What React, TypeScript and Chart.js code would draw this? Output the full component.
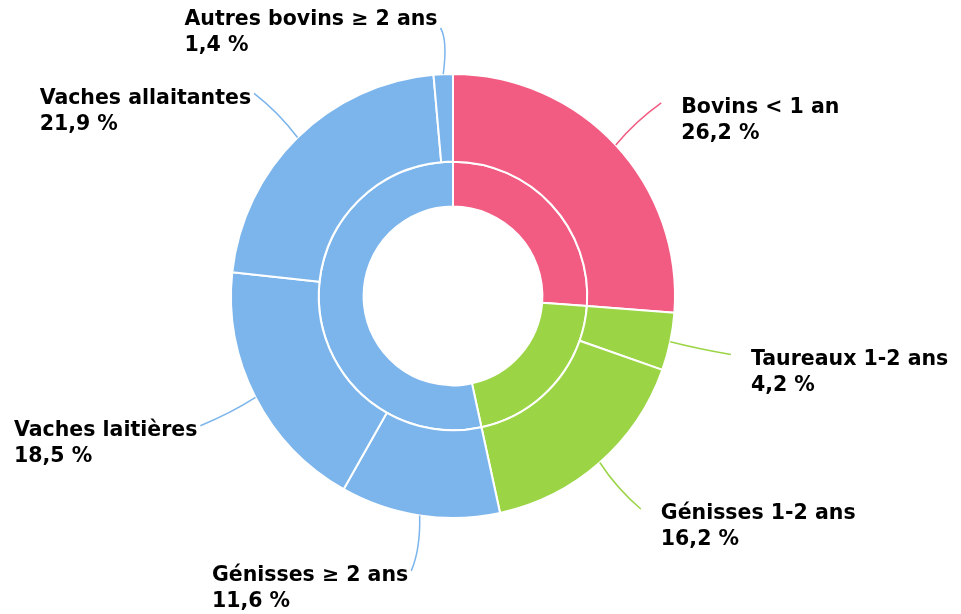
import React, { useEffect, useRef } from "react";
import { Chart, registerables } from "chart.js";

Chart.register(...registerables);

const outerLabels = [
  "Bovins < 1 an",
  "Taureaux 1-2 ans",
  "Génisses 1-2 ans",
  "Génisses ≥ 2 ans",
  "Vaches laitières",
  "Vaches allaitantes",
  "Autres bovins ≥ 2 ans",
];
const outerValues = [26.2, 4.2, 16.2, 11.6, 18.5, 21.9, 1.4];
const outerGroup = [0, 1, 1, 2, 2, 2, 2];

const innerLabels = ["Bovins < 1 an", "Bovins 1-2 ans", "Bovins ≥ 2 ans"];
const innerValues = [26.2, 20.4, 53.4];
const groupColors = ["#f25c82", "#9bd546", "#7cb5ec"];

const fmt = (v: number) => v.toFixed(1).replace(".", ",") + " %";

const labelPlugin = {
  id: "sunLabels",
  afterDatasetsDraw(chart: any) {
    const ctx = chart.ctx;
    const meta = chart.getDatasetMeta(0);
    ctx.save();
    meta.data.forEach((arc: any, i: number) => {
      const { x, y, startAngle, endAngle, outerRadius } = arc.getProps(
        ["x", "y", "startAngle", "endAngle", "outerRadius"],
        true
      );
      const mid = (startAngle + endAngle) / 2;
      const cos = Math.cos(mid);
      const sin = Math.sin(mid);
      const sx = x + cos * outerRadius;
      const sy = y + sin * outerRadius;
      const rEnd = outerRadius + (sin > 0.9 ? 56 : 62);
      const ex = x + cos * rEnd;
      const ey = Math.max(y + sin * rEnd, 28);
      const right = cos >= 0;
      const cx = x + cos * (outerRadius + 34) + (right ? -6 : 6);
      const cy = Math.max(y + sin * (outerRadius + 34), 40);
      ctx.beginPath();
      ctx.moveTo(sx, sy);
      ctx.quadraticCurveTo(cx, cy, ex, ey);
      ctx.strokeStyle = groupColors[outerGroup[i]];
      ctx.lineWidth = 1.5;
      ctx.stroke();

      ctx.font = "bold 20.5px 'DejaVu Sans', sans-serif";
      ctx.fillStyle = "#000";
      ctx.textBaseline = "middle";
      ctx.textAlign = "left";
      const l1 = outerLabels[i];
      const l2 = fmt(outerValues[i]);
      const tx = right ? ex + 20 : ex - 3 - ctx.measureText(l1).width;
      const ty = ey + (sin < -0.95 ? -8 : 5);
      ctx.fillText(l1, tx, ty);
      ctx.fillText(l2, tx, ty + 26);
    });
    ctx.restore();
  },
};

export default function App() {
  const ref = useRef<HTMLCanvasElement>(null);
  useEffect(() => {
    if (!ref.current) return;
    const chart = new Chart(ref.current, {
      type: "doughnut",
      data: {
        labels: outerLabels,
        datasets: [
          {
            data: outerValues,
            backgroundColor: outerGroup.map((g) => groupColors[g]),
            borderColor: "#ffffff",
            borderWidth: 2,
            weight: 88,
          } as any,
          {
            data: innerValues,
            backgroundColor: groupColors,
            borderColor: "#ffffff",
            borderWidth: 2,
            weight: 45,
          } as any,
        ],
      },
      options: {
        animation: false,
        responsive: false,
        radius: 222,
        cutout: 89,
        layout: { padding: { top: 74, bottom: 96, left: 231, right: 286 } },
        plugins: { legend: { display: false }, tooltip: { enabled: false } },
      } as any,
      plugins: [labelPlugin],
    });
    return () => chart.destroy();
  }, []);
  return (
    <div style={{ position: "fixed", left: 0, top: 0, width: 961, height: 614, background: "#fff" }}>
      <canvas ref={ref} width={961} height={614} style={{ width: 961, height: 614 }} />
    </div>
  );
}
